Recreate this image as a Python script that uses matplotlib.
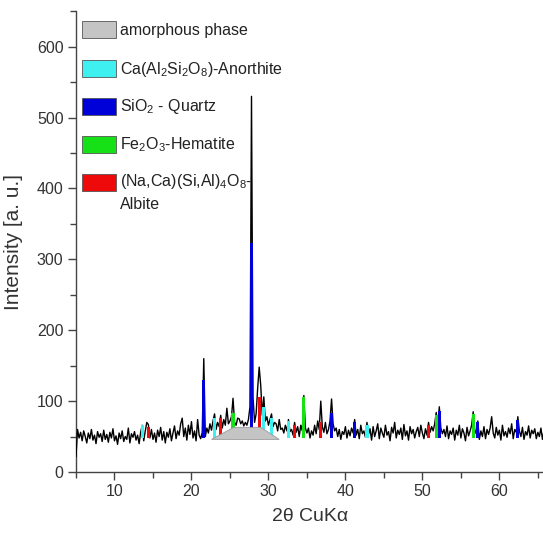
import numpy as np
import matplotlib
matplotlib.use('Agg')
import matplotlib.pyplot as plt
from matplotlib.patches import Rectangle, Polygon

plt.rcParams['font.family'] = ['Liberation Sans', 'DejaVu Sans']
plt.rcParams['mathtext.fontset'] = 'custom'
plt.rcParams['mathtext.rm'] = 'Liberation Sans'

# === Datos del difractograma (paso 0.2 grados desde 5) ===
two_theta_start = 5.0
two_theta_step = 0.2
intensity = [
    22, 60, 48, 56, 44, 58, 50, 41, 55, 47,
    60, 45, 52, 40, 57, 49, 54, 43, 59, 46,
    53, 42, 56, 48, 61, 44, 51, 39, 55, 47,
    58, 43, 50, 46, 62, 41, 54, 49, 57, 45,
    52, 40, 56, 66, 44, 58, 70, 67, 48, 60,
    46, 55, 42, 59, 50, 63, 45, 57, 41, 56,
    49, 61, 44, 55, 65, 47, 58, 52, 68, 76,
    50, 62, 45, 66, 53, 71, 48, 58, 44, 74,
    52, 47, 56, 160, 50, 62, 55, 68, 59, 72,
    82, 60, 70, 64, 80, 62, 74, 66, 90, 68,
    72, 78, 104, 70, 66, 76, 75, 68, 72, 65,
    70, 66, 74, 92, 530, 105, 70, 82, 118, 148,
    122, 80, 106, 72, 78, 66, 74, 82, 64, 70,
    68, 58, 74, 60, 62, 55, 66, 58, 74, 57,
    60, 52, 70, 56, 64, 50, 66, 58, 108, 62,
    55, 62, 48, 58, 52, 66, 54, 72, 60, 100,
    64, 56, 70, 54, 60, 72, 103, 68, 58, 62,
    50, 60, 46, 57, 53, 64, 48, 59, 51, 62,
    55, 74, 52, 60, 47, 66, 54, 58, 49, 70,
    53, 61, 45, 64, 50, 58, 68, 47, 62, 55,
    49, 66, 52, 57, 44, 63, 55, 70, 48, 59,
    53, 62, 46, 67, 51, 58, 45, 64, 54, 60,
    48, 57, 63, 50, 66, 55, 47, 61, 52, 70,
    56, 64, 58, 68, 84, 66, 92, 62, 54, 60,
    50, 65, 47, 58, 53, 62, 45, 59, 52, 66,
    48, 61, 55, 44, 63, 51, 58, 66, 85, 60,
    54, 72, 46, 58, 50, 64, 47, 60, 53, 62,
    78, 55, 48, 63, 52, 59, 45, 66, 51, 57,
    49, 62, 54, 68, 47, 60, 56, 78, 58, 50,
    63, 46, 57, 52, 65, 48, 59, 54, 61, 47,
    56, 50, 62, 46, 58,
]

# === Fases identificadas: posicion del pico y altura de referencia ===
anorthite_pos = [13.6, 23.0, 29.4, 30.4, 32.6, 42.8]
anorthite_h = [66, 76, 92, 76, 72, 66]
quartz_pos = [21.6, 27.8, 38.2, 41.2, 52.2, 57.2, 62.4]
quartz_h = [130, 323, 83, 70, 86, 70, 74]
hematite_pos = [25.4, 34.6, 51.8, 56.6]
hematite_h = [83, 106, 80, 82]
albite_pos = [14.4, 23.8, 28.8, 33.4, 36.8, 50.8]
albite_h = [64, 76, 106, 66, 70, 66]

# joroba amorfa
amorph_x = [22.6, 25.5, 29.0, 31.4]
amorph_y = [46, 63, 63, 46]

legend_labels = [
    "amorphous phase",
    r"Ca(Al$\mathregular{_2}$Si$\mathregular{_2}$O$\mathregular{_8}$)-Anorthite",
    r"SiO$\mathregular{_2}$ - Quartz",
    r"Fe$\mathregular{_2}$O$\mathregular{_3}$-Hematite",
    "(Na,Ca)(Si,Al)$\\mathregular{_4}$O$\\mathregular{_8}$-\nAlbite",
]
legend_colors = ["#c4c4c4", "#3ff0f0", "#0000d8", "#16e016", "#ee0a0a"]

y = np.array(intensity, dtype=float)
x = two_theta_start + two_theta_step * np.arange(len(y))

W, H = 543, 536
fig = plt.figure(figsize=(W / 100, H / 100), dpi=100)
ax = fig.add_axes([76 / W, 1 - 472 / H, 468 / W, 460.7 / H])

base = 48
fases = [
    (anorthite_pos, anorthite_h, legend_colors[1]),
    (quartz_pos, quartz_h, legend_colors[2]),
    (hematite_pos, hematite_h, legend_colors[3]),
    (albite_pos, albite_h, legend_colors[4]),
]

ax.plot(x, y, color="black", lw=1.0, zorder=3)
for posiciones, alturas, color in fases:
    ax.bar(posiciones, np.array(alturas) - base, bottom=base, width=0.42,
           color=color, lw=0, zorder=4)
ax.add_patch(Polygon(list(zip(amorph_x, amorph_y)), closed=True,
                     facecolor=legend_colors[0], edgecolor="#9a9a9a",
                     lw=0.6, zorder=5))

ax.set_xlim(5, 65.8)
ax.set_ylim(0, 650)
ax.set_xticks([10, 20, 30, 40, 50, 60])
ax.set_xticks(np.arange(5, 66, 5), minor=True)
ax.set_yticks(np.arange(0, 601, 100))
ax.set_yticks(np.arange(0, 651, 50), minor=True)
for s in ["top", "right"]:
    ax.spines[s].set_visible(False)
for s in ["left", "bottom"]:
    ax.spines[s].set_color("#444444")
    ax.spines[s].set_linewidth(1.0)
ax.tick_params(which="major", direction="out", length=6, width=1,
               color="#444444", labelsize=11.5, labelcolor="#333333", pad=3)
ax.tick_params(which="minor", direction="out", length=4, width=1,
               color="#444444")
ax.set_xlabel("2θ CuKα", fontsize=14, color="#333333", labelpad=6)
ax.set_ylabel("Intensity [a. u.]", fontsize=15, color="#333333", labelpad=10)

# === Leyenda manual ===
for k, (lab, col) in enumerate(zip(legend_labels, legend_colors)):
    yc = 30 + 38 * k
    fig.patches.append(Rectangle((82 / W, 1 - (yc + 8.5) / H), 34 / W, 17 / H,
                                 transform=fig.transFigure, facecolor=col,
                                 edgecolor="#555555", lw=0.6))
    if "\n" in lab:
        fig.text(120 / W, 1 - (yc - 10) / H, lab, fontsize=11.5,
                 color="#222222", va="top", ha="left", linespacing=1.5)
    else:
        fig.text(120 / W, 1 - (yc + 1) / H, lab, fontsize=11.5,
                 color="#222222", va="center", ha="left")

fig.savefig("out.png", dpi=100)
